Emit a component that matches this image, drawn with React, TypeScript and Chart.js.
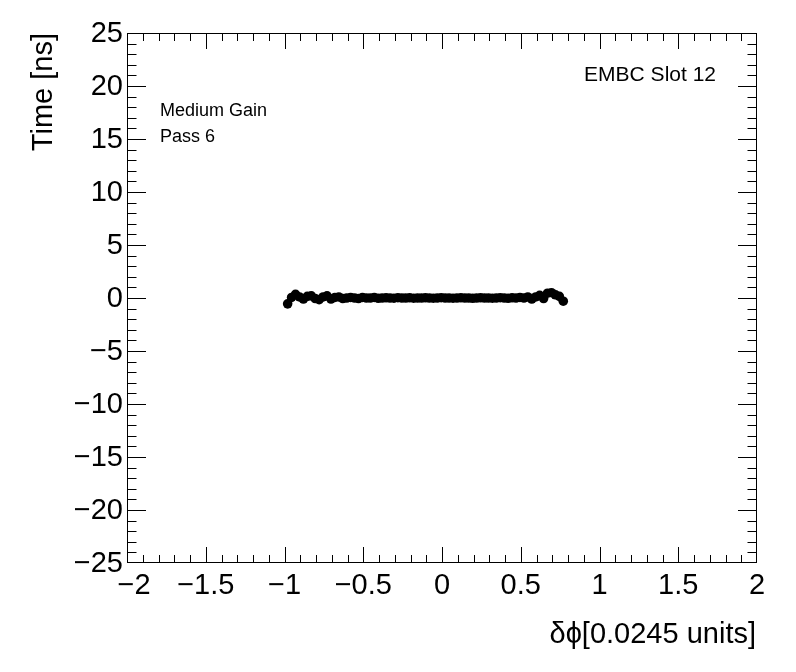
import React, { useEffect, useRef } from "react";
import { Chart, registerables } from "chart.js";

Chart.register(...registerables);

const xValues = [
  -0.98, -0.955, -0.93, -0.905, -0.88, -0.855, -0.83, -0.805, -0.78, -0.755,
  -0.73, -0.705, -0.68, -0.655, -0.63, -0.605, -0.58, -0.555, -0.53, -0.505,
  -0.48, -0.455, -0.43, -0.405, -0.38, -0.355, -0.33, -0.305, -0.28, -0.255,
  -0.23, -0.205, -0.18, -0.155, -0.13, -0.105, -0.08, -0.055, -0.03, -0.005,
  0.02, 0.045, 0.07, 0.095, 0.12, 0.145, 0.17, 0.195, 0.22, 0.245,
  0.27, 0.295, 0.32, 0.345, 0.37, 0.395, 0.42, 0.445, 0.47, 0.495,
  0.52, 0.545, 0.57, 0.595, 0.62, 0.645, 0.67, 0.695, 0.72, 0.745, 0.77,
];

const timeValues = [
  -0.55, 0.05, 0.35, 0.1, -0.1, 0.15, 0.2, -0.05, -0.15, 0.1,
  0.2, -0.1, 0.05, 0.1, -0.05, 0.0, 0.05, 0.0, -0.05, 0.05,
  0.0, 0.0, 0.05, -0.03, 0.0, 0.02, 0.0, -0.02, 0.03, 0.0,
  0.0, 0.02, -0.02, 0.0, 0.0, 0.02, 0.0, -0.02, 0.0, 0.03,
  0.0, 0.0, -0.02, 0.0, 0.02, 0.0, 0.0, -0.03, 0.0, 0.02,
  0.0, 0.0, -0.02, 0.0, 0.03, 0.0, -0.03, 0.02, 0.0, 0.05,
  0.0, 0.1, -0.1, 0.1, 0.25, -0.05, 0.45, 0.5, 0.3, 0.15, -0.3,
];

const xMajorTicks = [-2, -1.5, -1, -0.5, 0, 0.5, 1, 1.5, 2];
const xTickLabels = ["\u22122", "\u22121.5", "\u22121", "\u22120.5", "0", "0.5", "1", "1.5", "2"];
const yMajorTicks = [-25, -20, -15, -10, -5, 0, 5, 10, 15, 20, 25];
const yTickLabels = ["\u221225", "\u221220", "\u221215", "\u221210", "\u22125", "0", "5", "10", "15", "20", "25"];

const xTitle = "\u03b4\u03d5[0.0245 units]";
const yTitle = "Time [ns]";
const infoLines = ["Medium Gain", "Pass 6"];
const slotLabel = "EMBC Slot 12";

const FONT = "'Liberation Sans', Arial, Helvetica, sans-serif";

const rootAxesPlugin = {
  id: "rootAxes",
  afterDraw(chart: any) {
    const ctx = chart.ctx as CanvasRenderingContext2D;
    const { left, right, top, bottom } = chart.chartArea;
    const xs = chart.scales.x;
    const ys = chart.scales.y;
    ctx.save();
    ctx.strokeStyle = "#000";
    ctx.lineWidth = 1;
    ctx.strokeRect(left + 0.5, top + 0.5, right - left - 1, bottom - top - 1);

    // x ticks (bottom and top)
    const xMajLen = 16, xMinLen = 8;
    ctx.beginPath();
    for (let i = 0; i < xMajorTicks.length; i++) {
      for (let k = 0; k < 5; k++) {
        const v = xMajorTicks[i] + k * 0.1;
        if (v > 1.9999 || v < -1.9999) continue;
        const px = Math.round(xs.getPixelForValue(v)) + 0.5;
        const len = k === 0 ? xMajLen : xMinLen;
        ctx.moveTo(px, bottom);
        ctx.lineTo(px, bottom - len);
        ctx.moveTo(px, top);
        ctx.lineTo(px, top + len);
      }
    }
    // y ticks (left and right)
    const yMajLen = 19, yMinLen = 9.5;
    for (let i = 0; i < yMajorTicks.length; i++) {
      for (let k = 0; k < 5; k++) {
        const v = yMajorTicks[i] + k;
        if (v > 24.999 || v < -24.999) continue;
        const py = Math.round(ys.getPixelForValue(v)) + 0.5;
        const len = k === 0 ? yMajLen : yMinLen;
        ctx.moveTo(left, py);
        ctx.lineTo(left + len, py);
        ctx.moveTo(right, py);
        ctx.lineTo(right - len, py);
      }
    }
    ctx.stroke();

    ctx.fillStyle = "#000";
    ctx.font = `29px ${FONT}`;
    ctx.textAlign = "center";
    ctx.textBaseline = "alphabetic";
    xMajorTicks.forEach((v, i) => {
      const shift = i === 0 ? 7 : 0;
      ctx.fillText(xTickLabels[i], xs.getPixelForValue(v) + shift, 594);
    });
    ctx.textAlign = "right";
    ctx.textBaseline = "middle";
    yMajorTicks.forEach((v, i) => {
      ctx.fillText(yTickLabels[i], 123, ys.getPixelForValue(v) + 1);
    });

    // axis titles
    ctx.textAlign = "right";
    ctx.textBaseline = "alphabetic";
    ctx.fillText(xTitle, right - 1, 643);
    ctx.save();
    ctx.translate(52, top);
    ctx.rotate(-Math.PI / 2);
    ctx.textAlign = "right";
    ctx.fillText(yTitle, 0, 0);
    ctx.restore();

    // annotations
    ctx.font = `18px ${FONT}`;
    ctx.textAlign = "left";
    ctx.fillText(infoLines[0], 160, 116);
    ctx.fillText(infoLines[1], 160, 142);
    ctx.font = `21px ${FONT}`;
    ctx.textAlign = "right";
    ctx.fillText(slotLabel, 716, 81);
    ctx.restore();
  },
};

export default function App() {
  const canvasRef = useRef<HTMLCanvasElement | null>(null);

  useEffect(() => {
    if (!canvasRef.current) return;
    const points = xValues.map((x, i) => ({ x, y: timeValues[i] }));
    const chart = new Chart(canvasRef.current, {
      type: "scatter",
      data: {
        datasets: [
          {
            data: points,
            backgroundColor: "#000",
            borderColor: "#000",
            borderWidth: 0,
            pointRadius: 4.8,
            pointHoverRadius: 4.8,
          },
        ],
      },
      options: {
        responsive: false,
        animation: false,
        devicePixelRatio: 1,
        layout: { padding: { left: 127, right: 39, top: 33, bottom: 109 } },
        plugins: {
          legend: { display: false },
          tooltip: { enabled: false },
          title: { display: false },
        },
        scales: {
          x: { type: "linear", min: -2, max: 2, display: false },
          y: { type: "linear", min: -25, max: 25, display: false },
        },
      },
      plugins: [rootAxesPlugin],
    });
    return () => chart.destroy();
  }, []);

  return (
    <div style={{ position: "absolute", left: 0, top: 0, width: 796, height: 672, background: "#fff" }}>
      <canvas ref={canvasRef} width={796} height={672} style={{ display: "block" }} />
    </div>
  );
}
